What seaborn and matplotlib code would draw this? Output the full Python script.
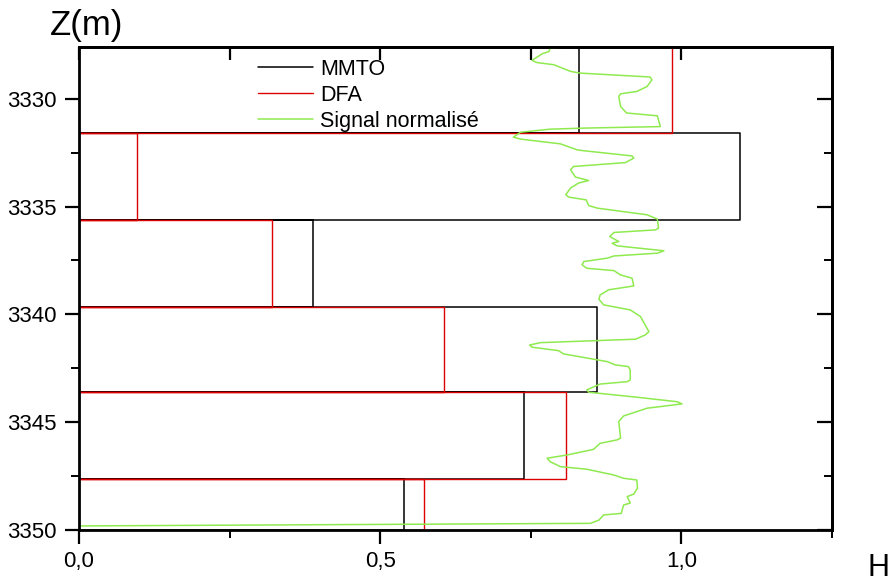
import pandas as pd
import seaborn as sns
import matplotlib.pyplot as plt
from matplotlib.ticker import FuncFormatter, MultipleLocator

# depth boundaries of the analysis windows (m)
bounds = [3327.6, 3331.6, 3335.6, 3339.65, 3343.6, 3347.65, 3350.0]
# Hurst exponent per window
h_mmto = [0.830, 1.098, 0.389, 0.860, 0.739, 0.540]
h_dfa = [0.985, 0.096, 0.321, 0.606, 0.809, 0.573]

# normalised log signal
sig_z = [3327.50, 3327.65, 3327.81, 3327.91, 3328.22, 3328.32, 3328.42, 3328.73, 3328.81,
         3328.99, 3329.12, 3329.43, 3329.66, 3329.77, 3329.89, 3330.36, 3330.66, 3330.79,
         3331.29, 3331.36, 3331.41, 3331.55, 3331.78, 3331.87, 3332.09, 3332.37, 3332.41,
         3332.65, 3332.75, 3332.96, 3333.14, 3333.29, 3333.63, 3333.79, 3333.91, 3334.14,
         3334.45, 3334.56, 3334.69, 3334.95, 3335.07, 3335.38, 3335.58, 3336.00, 3336.08,
         3336.20, 3336.39, 3336.62, 3336.70, 3336.82, 3337.05, 3337.16, 3337.29, 3337.39,
         3337.55, 3337.70, 3337.86, 3337.97, 3338.17, 3338.32, 3338.68, 3338.86, 3339.10,
         3339.30, 3339.56, 3339.79, 3340.10, 3340.80, 3340.95, 3341.15, 3341.31, 3341.42,
         3341.52, 3341.68, 3341.83, 3342.19, 3342.34, 3342.42, 3342.58, 3343.04, 3343.12,
         3343.23, 3343.50, 3343.61, 3343.84, 3344.05, 3344.15, 3344.20, 3344.35, 3344.71,
         3344.97, 3345.74, 3345.82, 3345.98, 3346.26, 3346.52, 3346.67, 3346.83, 3347.06,
         3347.18, 3347.45, 3347.60, 3347.68, 3348.06, 3348.33, 3348.45, 3348.75, 3348.84,
         3349.23, 3349.30, 3349.54, 3349.69, 3349.81]
sig_h = [0.865, 0.782, 0.780, 0.769, 0.752, 0.760, 0.788, 0.816, 0.832,
         0.948, 0.951, 0.943, 0.926, 0.899, 0.896, 0.899, 0.909, 0.960,
         0.965, 0.838, 0.782, 0.733, 0.721, 0.733, 0.799, 0.827, 0.838,
         0.918, 0.921, 0.907, 0.821, 0.816, 0.824, 0.846, 0.829, 0.816,
         0.808, 0.813, 0.842, 0.846, 0.860, 0.943, 0.960, 0.962, 0.957,
         0.888, 0.881, 0.896, 0.885, 0.893, 0.971, 0.960, 0.888, 0.877,
         0.838, 0.835, 0.843, 0.888, 0.899, 0.918, 0.921, 0.879, 0.865,
         0.863, 0.871, 0.915, 0.932, 0.946, 0.940, 0.924, 0.766, 0.748,
         0.752, 0.796, 0.804, 0.877, 0.890, 0.912, 0.915, 0.915, 0.910,
         0.865, 0.843, 0.846, 0.926, 0.993, 1.001, 0.987, 0.943, 0.904,
         0.896, 0.899, 0.893, 0.865, 0.854, 0.810, 0.777, 0.782, 0.799,
         0.843, 0.888, 0.904, 0.926, 0.927, 0.921, 0.910, 0.915, 0.904,
         0.900, 0.871, 0.863, 0.849, 0.000]


def box_path(vals):
    # each window drawn as an open box from H=0 out to its value
    rows = []
    for i, v in enumerate(vals):
        z0, z1 = bounds[i], bounds[i + 1]
        rows += [(0.0, z0), (v, z0), (v, z1), (0.0, z1)]
    return pd.DataFrame(rows, columns=['H', 'Z'])


sns.set_style('ticks')
plt.rcParams['font.family'] = ['Liberation Sans', 'DejaVu Sans']
for key in ['text.color', 'xtick.color', 'ytick.color', 'axes.labelcolor']:
    plt.rcParams[key] = 'black'

fig = plt.figure(figsize=(8.96, 5.82), dpi=100)
ax = fig.add_axes([0.0882, 0.0893, 0.8404, 0.8299])

sns.lineplot(data=box_path(h_mmto), x='H', y='Z', sort=False, estimator=None,
             color='black', lw=1.1, label='MMTO', ax=ax)
sns.lineplot(data=box_path(h_dfa), x='H', y='Z', sort=False, estimator=None,
             color='#dd0000', lw=1.0, label='DFA', ax=ax)
sig = pd.DataFrame({'H': sig_h, 'Z': sig_z})
sns.lineplot(data=sig, x='H', y='Z', sort=False, estimator=None,
             color='#8fea4f', lw=1.1, label='Signal normalisé', ax=ax)

ax.set_xlim(0, 1.25)
ax.set_ylim(3350, 3327.6)
ax.set_xlabel('')
ax.set_ylabel('')

comma = FuncFormatter(lambda v, p: f'{v:.1f}'.replace('.', ','))
ax.xaxis.set_major_locator(MultipleLocator(0.5))
ax.xaxis.set_minor_locator(MultipleLocator(0.25))
ax.xaxis.set_major_formatter(comma)
ax.yaxis.set_major_locator(MultipleLocator(5))
ax.yaxis.set_minor_locator(MultipleLocator(2.5))
ax.tick_params(which='major', direction='out', length=10, width=1.6, labelsize=16)
ax.tick_params(which='minor', direction='out', length=6, width=1.4)
ax.tick_params(axis='x', which='major', pad=5)
ax.tick_params(axis='y', which='major', pad=6)

# right and top ticks point inward
top = ax.secondary_xaxis('top')
top.xaxis.set_major_locator(MultipleLocator(0.25))
top.tick_params(direction='in', length=9, width=1.6, labeltop=False)
right = ax.secondary_yaxis('right')
right.yaxis.set_major_locator(MultipleLocator(5))
right.yaxis.set_minor_locator(MultipleLocator(2.5))
right.tick_params(which='major', direction='in', length=11, width=1.6, labelright=False)
right.tick_params(which='minor', direction='in', length=6, width=1.4)

for a in (ax, top, right):
    for s in a.spines.values():
        s.set_linewidth(2)
        s.set_color('black')

ax.legend(loc='upper left', bbox_to_anchor=(0.238, 0.976), frameon=False,
          fontsize=15.5, handlelength=2.55, handletextpad=0.33, labelspacing=0.24,
          borderpad=0, borderaxespad=0)

fig.text(0.056, 0.94, 'Z(m)', fontsize=25, va='baseline', ha='left')
fig.text(0.968, 0.01, 'H', fontsize=22, va='baseline', ha='left')

fig.savefig('out.png', dpi=100)
